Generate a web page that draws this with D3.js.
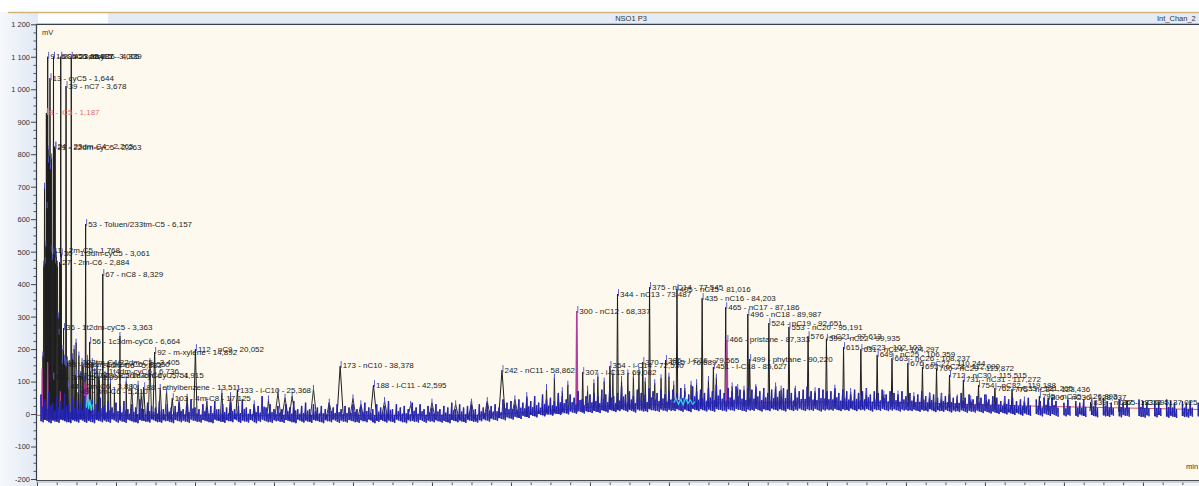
<!DOCTYPE html>
<html><head><meta charset="utf-8">
<script src="https://cdn.jsdelivr.net/npm/d3@7"></script>
<style>
body{margin:0;background:#fff;overflow:hidden}
svg{display:block}
text{font-family:"Liberation Sans",Arial,sans-serif}
</style></head>
<body><svg id="c" width="1199" height="486"></svg>
<script>
// ---------------- DATA ----------------
const chartTitle = "NSO1 P3";
const channelName = "Int_Chan_2";
const yUnit = "mV", xUnit = "min";
const yTickValues = [-200,-100,0,100,200,300,400,500,600,700,800,900,1000,1100,1200];
const xTickValues = [0,10,20,30,40,50,60,70,80,90,100,110,120,130,140];

// labelled peaks: id, compound, retention time (min), height (mV)
const peakIds   = [8,9,13,11,16,21,24,27,29,30,36,39,45,53,56,57,67,88,92,103,112,133,173,188,242,300,307,354,344,370,375,385,405,435,451,465,466,496,499,524,553,576,599,615,631,649,663,676,691,700,712,731,754,762,775,795,806,839,865,
                   14,41,43,47,50,62,44,49];
const peakNames = ["iC5","nC5","cyC5","2m-C5","nC6","22dm-cyC5","23dm-C4","2m-C6","23dm-C5","1t3dm-cyC5","1t2dm-cyC5","nC7","mcyC6","Toluen/233tm-C5","1c3dm-cyC6","1t4dm-cyC6","nC8","ethylbenzene","m-xylene","4m-C8","nC9","i-C10","nC10","i-C11","nC11","nC12","i-C13","i-C14","nC13","i-C15","nC14","i-C16","nC15","nC16","i-C18","nC17","pristane","nC18","phytane","nC19","nC20","nC21","nC22","nC23","nC24","nC25","nC26","nC27","nC28","nC29","nC30","nC31","nC32","nC33","nC34","nC35","nC36","nC37","nC38",
                   "3m-C5","223tm-C4/22dm-C5","33dm-C5/2m-C6","224tm-C5/1c3dm-cyC5","24dm-C6","1c2dm-cyC6","2m-C6","3m-C6"];
const peakTimes = [1.187,1.354,1.644,1.768,2.087,2.263,2.265,2.884,3.005,3.061,3.363,3.678,4.339,6.157,6.664,6.736,8.329,13.511,14.892,17.125,20.052,25.368,38.378,42.595,58.862,68.337,69.082,72.530,73.487,76.689,77.545,79.565,81.016,84.203,85.627,87.186,87.333,89.987,90.220,92.651,95.191,97.613,99.935,102.103,104.297,106.359,108.237,110.244,112.090,113.872,115.515,117.272,119.188,121.265,123.436,126.893,128.037,133.395,137.025,
                   1.997,3.405,3.550,4.915,5.833,7.751,3.880,5.210];
const peakHeights=[927,1100,1034,505,1100,822,824,468,1100,495,265,1010,1100,585,222,132,431,83,191,49,200,74,148,89,135,317,129,148,369,160,391,166,385,357,145,329,228,308,169,280,268,240,232,206,200,182,172,157,145,139,120,105,89,80,77,55,50,37,37,
                   112,158,152,120,150,118,84,68];
const redLabelIds = [8];
const magentaPeakIds = [300,466];

// unlabelled peaks: time (min), height (mV)
const minorTimes  = [0.75,0.85,0.95,1.05,1.12,1.28,1.45,1.52,1.58,1.70,1.85,1.95,2.15,2.35,2.45,2.60,2.70,2.80,3.20,3.30,3.50,3.85,4.05,4.50,4.70,4.95,5.30,5.50,5.70,6.00,6.40,7.00,7.30,7.60,7.90,8.60,9.00,9.30,9.80,10.5,11.3,12.0,
                     12.8,13.2,14.3,15.6,16.4,18.0,19.0,21.5,23.4,24.5,27.5,29.3,30.5,31.4,32.3,35.0,37.0,40.0,41.0,44.0,47.3,50.0,53.0,55.0,57.0,
                     60.5,62.0,64.5,65.5,66.5,67.2,69.7,70.5,71.0,71.8,72.9,74.0,74.8,75.5,76.2,77.0,78.2,79.0,80.0,80.6,82.0,82.8,83.5,85.0,86.0,88.0,88.7,89.5,91.0,93.5,94.2,96.0,98.5,101.0,103.0,105.0,107.2,109.0,111.0,113.0,114.5,116.5,118.2,120.2,122.5,125.0];
const minorHeights= [180,460,700,470,520,640,780,815,800,760,790,480,500,470,490,460,300,250,160,200,170,165,150,175,200,220,180,120,160,110,170,160,130,150,110,120,150,100,70,240,100,80,
                     90,60,160,80,70,40,50,40,65,55,30,45,65,50,55,77,35,48,30,40,28,35,30,35,40,
                     45,55,80,112,70,90,75,95,115,100,125,105,125,115,130,100,95,110,115,90,80,90,95,105,112,85,80,75,80,85,75,75,70,78,68,65,60,60,55,55,50,48,45,48,40,42];
const magentaTimes = [0.65,1.35,2.95,6.05,6.30,66.0];
const magentaHeights=[140,160,70,100,90,60];

// detector baseline (red)
const baseTimes  = [0,56,64,72,85,100,112,125,147.1];
const baseValues = [-4,-4,8,25,34,37,34,25,14];

// baseline noise, sampled every 0.5 min from 0.5 min: upper and lower excursions (mV)
const noiseStart = 0.5, noiseStep = 0.5;
const noiseHi = [
 60,45,70,35,55,40,65,30,50,45,35,55,25,45,30,50,25,40,20,35,
 25,40,15,30,20,45,15,35,25,20,40,15,30,20,25,35,15,30,45,20,
 15,30,20,25,40,15,30,20,35,15,25,45,20,15,30,25,55,20,30,15,
 25,15,30,20,40,15,25,35,15,30,20,25,15,35,20,30,15,25,20,30,
 15,25,35,20,15,30,20,25,40,15,30,20,25,15,35,20,30,15,25,20,
 30,15,25,20,35,15,30,20,25,40,15,30,20,35,25,30,20,45,35,40,
 30,45,35,50,40,55,35,60,45,50,40,65,55,45,60,50,70,45,55,60,
 65,55,75,60,80,55,65,85,60,70,55,75,65,60,80,70,65,75,60,70,
 75,65,80,70,60,85,70,75,65,80,70,90,75,65,80,70,85,75,70,80,
 75,85,70,80,65,75,85,70,80,75,65,80,70,75,85,70,65,80,75,70,
 70,80,65,75,70,60,75,65,70,80,60,70,65,75,60,70,65,60,70,55,
 65,55,60,70,55,65,60,50,65,55,60,50,55,65,50,60,45,55,50,60,
 45,55,50,40,55,45,50,40,45,40,50,null,45,40,50,45,50,40,null,35,
 45,null,40,35,45,null,45,40,null,50,40,35,null,45,35,40,null,null,45,40,
 35,null,40,35,null,45,40,35,null,40,35,40,null,35];
const noiseLo = [
 -22,-18,-25,-20,-24,-16,-22,-25,-19,-23,-17,-24,-21,-25,-18,-22,-20,-24,-16,-23,
 -20,-24,-17,-22,-25,-18,-21,-23,-16,-22,-24,-19,-21,-25,-18,-22,-20,-24,-17,-21,
 -23,-18,-22,-25,-17,-21,-24,-19,-22,-16,-24,-20,-23,-18,-25,-21,-17,-22,-24,-19,
 -21,-24,-18,-22,-25,-17,-23,-20,-24,-18,-21,-25,-19,-22,-17,-24,-20,-23,-18,-22,
 -24,-19,-22,-17,-25,-21,-18,-23,-20,-24,-17,-22,-25,-19,-21,-23,-18,-24,-20,-22,
 -19,-23,-21,-25,-18,-22,-20,-24,-17,-21,-23,-19,-16,-20,-14,-18,-12,-16,-10,-14,
 -8,-12,-5,-9,-3,-7,0,-4,2,-2,4,0,6,2,8,4,10,5,9,6,
 10,6,12,8,14,9,12,15,10,13,8,14,11,9,15,12,10,14,11,13,
 12,15,10,14,9,16,12,15,11,14,10,16,13,11,15,12,16,13,10,14,
 13,16,11,15,12,17,13,15,11,16,12,14,17,12,15,13,16,11,14,15,
 14,16,12,15,13,17,12,15,14,16,11,15,13,16,12,14,15,11,14,13,
 12,14,10,13,11,15,9,12,10,13,8,11,9,12,7,10,8,11,6,9,
 5,8,3,6,2,5,0,4,-2,2,-3,null,0,-4,2,-3,0,-5,null,-4,
 -2,null,-5,-1,-6,null,-3,-7,null,-4,-6,-2,null,-7,-3,-5,null,null,-6,-8,
 -4,null,-7,-3,null,-8,-5,-9,null,-6,-8,-5,null,-7];

// second detector trace fragments (cyan)
const cyanTimesA = [6.25,6.40,6.55,6.70,6.85,7.00];
const cyanValuesA= [20,60,15,45,10,30];
const cyanTimesB = [80.6,80.9,81.2,81.5,81.8,82.1,82.4,82.7,83.0,83.3];
const cyanValuesB= [35,48,30,45,28,50,32,44,30,38];

// ---------------- DRAW ----------------
const svg = d3.select("#c");
const X0 = 37, X1 = 1199, YT = 24.3, YB = 479;
const x = d3.scaleLinear().domain([0,147.1]).range([X0,X1]);
const y = d3.scaleLinear().domain([-200,1200]).range([YB,YT]);
const base = d3.scaleLinear().domain(baseTimes).range(baseValues);
const loc = d3.formatLocale({decimal:",",thousands:"\u00a0",grouping:[3],currency:["",""],minus:"-"});
const fmtY = loc.format(",");
const fmtT = loc.format(".3f");

const defs = svg.append("defs");
const g1 = defs.append("linearGradient").attr("id","lg").attr("x1","0").attr("x2","1").attr("y1","0").attr("y2","0");
g1.append("stop").attr("offset","0").attr("stop-color","#f6f8fc");
g1.append("stop").attr("offset","1").attr("stop-color","#e2e9f4");
defs.append("clipPath").attr("id","clip").append("rect").attr("x",X0).attr("y",YT-0.3).attr("width",X1-X0).attr("height",YB-YT+1.3);

// backgrounds
svg.append("rect").attr("x",0).attr("y",12).attr("width",X0).attr("height",474).attr("fill","url(#lg)");
svg.append("rect").attr("x",X0).attr("y",481).attr("width",X1-X0).attr("height",5).attr("fill","#f1f4f9");
svg.append("rect").attr("x",X0).attr("y",12.5).attr("width",X1-X0).attr("height",12).attr("fill","#e4ebf6");
svg.append("rect").attr("x",X0+1).attr("y",13).attr("width",70).attr("height",10.5).attr("fill","#fcfdfe");
svg.append("line").attr("x1",8).attr("x2",X1).attr("y1",12.5).attr("y2",12.5).attr("stroke","#d2b574").attr("stroke-width",1.4);
svg.append("text").attr("x",631).attr("y",21).attr("text-anchor","middle").attr("font-size",7.5).attr("fill","#333").text(chartTitle);
svg.append("text").attr("x",1157).attr("y",21).attr("font-size",7.5).attr("fill","#333").text(channelName);
svg.append("rect").attr("x",X0).attr("y",YT).attr("width",X1-X0).attr("height",YB-YT+1.5).attr("fill","#fef9ee");

// frame
svg.append("line").attr("x1",X0-0.5).attr("x2",X1).attr("y1",YT).attr("y2",YT).attr("stroke","#34404c").attr("stroke-width",1.2);
svg.append("line").attr("x1",X0-0.5).attr("x2",X0-0.5).attr("y1",YT).attr("y2",YB+1.5).attr("stroke","#34404c").attr("stroke-width",1.2);
svg.append("line").attr("x1",X0-1).attr("x2",X1).attr("y1",YB+1.5).attr("y2",YB+1.5).attr("stroke","#4a4f55").attr("stroke-width",1);
svg.append("line").attr("x1",X0-1).attr("x2",X1).attr("y1",YB+3).attr("y2",YB+3).attr("stroke","#a8adb3").attr("stroke-width",1);

// y axis
const yAxis = svg.append("g").attr("transform",`translate(${X0-1},0)`)
  .call(d3.axisLeft(y).tickValues(yTickValues).tickSize(5).tickFormat(fmtY));
yAxis.select(".domain").remove();
yAxis.selectAll("line").attr("stroke","#444");
yAxis.selectAll("text").attr("font-size",7.5).attr("fill","#333").attr("x",-6);
const yMinor = svg.append("g").attr("transform",`translate(${X0-1},0)`)
  .call(d3.axisLeft(y).tickValues(d3.range(-200,1201,25).filter(v=>v%100)).tickSize(2.5).tickFormat(""));
yMinor.select(".domain").remove();
yMinor.selectAll("line").attr("stroke","#555");

// x axis
const xAxis = svg.append("g").attr("transform",`translate(0,${YB+3.5})`)
  .call(d3.axisBottom(x).tickValues(xTickValues).tickSize(3.5).tickFormat(d=>d));
xAxis.select(".domain").remove();
xAxis.selectAll("line").attr("stroke","#444");
xAxis.selectAll("text").attr("font-size",7.5).attr("fill","#333").attr("y",5);
const xMinor = svg.append("g").attr("transform",`translate(0,${YB+3.5})`)
  .call(d3.axisBottom(x).tickValues(d3.range(0,147,2.5).filter(v=>v%10)).tickSize(2.5).tickFormat(""));
xMinor.select(".domain").remove();
xMinor.selectAll("line").attr("stroke","#555");

svg.append("text").attr("x",42).attr("y",35).attr("font-size",7.5).attr("fill","#333").text(yUnit);
svg.append("text").attr("x",1186).attr("y",469).attr("font-size",7.5).attr("fill","#333").text(xUnit);

// plot content
const P = svg.append("g").attr("clip-path","url(#clip)");

// red baseline
P.append("path").datum(baseTimes.map((t,i)=>[t,baseValues[i]]))
  .attr("d",d3.line().x(d=>x(d[0])).y(d=>y(d[1])))
  .attr("fill","none").attr("stroke","#d9605a").attr("stroke-width",1);

function halfWidth(t){ return t<12?0.06:(t<30?0.22:(t<62?0.42:0.1)); }
function peakD(t,h){
  const w=halfWidth(t);
  return `M${x(t-w)},${y(base(t-w)-12)}L${x(t)},${y(h)}L${x(t+w)},${y(base(t+w)-12)}`;
}

// unlabelled peaks
const minor = minorTimes.map((t,i)=>({t,h:minorHeights[i]}));
P.append("g").selectAll("path").data(minor).join("path")
  .attr("d",d=>peakD(d.t,d.h)).attr("fill","none").attr("stroke","#1e1e1e").attr("stroke-width",0.9);
// labelled peaks
const peaks = peakIds.map((id,i)=>({id,name:peakNames[i],t:peakTimes[i],h:peakHeights[i]}));
P.append("g").selectAll("path").data(peaks).join("path")
  .attr("d",d=>peakD(d.t,d.h)).attr("fill","none")
  .attr("stroke",d=>magentaPeakIds.includes(d.id)?"#b0409a":"#1e1e1e")
  .attr("stroke-width",d=>magentaPeakIds.includes(d.id)?1.6:1);
// magenta small peaks
P.append("g").selectAll("path").data(magentaTimes.map((t,i)=>({t,h:magentaHeights[i]}))).join("path")
  .attr("d",d=>peakD(d.t,d.h)).attr("fill","none").attr("stroke","#c03aa8").attr("stroke-width",1.2);

// noise: spike bars + connecting trace
const noise = noiseHi.map((v,i)=>({t:noiseStart+i*noiseStep, hi:v, lo:noiseLo[i]})).filter(d=>d.hi!=null);
const NG = P.append("g");
NG.selectAll("line.a").data(noise).join("line").attr("class","a")
  .attr("x1",d=>x(d.t)).attr("x2",d=>x(d.t)).attr("y1",d=>y(d.hi)).attr("y2",d=>y(d.lo))
  .attr("stroke","#1c1ca0").attr("stroke-width",1.4);
NG.selectAll("line.b").data(noise).join("line").attr("class","b")
  .attr("x1",d=>x(d.t+noiseStep/2)).attr("x2",d=>x(d.t+noiseStep/2))
  .attr("y1",d=>y(d.lo+(d.hi-d.lo)*0.55)).attr("y2",d=>y(d.lo-3))
  .attr("stroke","#2a2ab8").attr("stroke-width",1.2);
const noisePts = [];
noiseHi.forEach((v,i)=>{
  const t = noiseStart + i*noiseStep;
  if(v==null){ noisePts.push(null); return; }
  noisePts.push([t,v]); noisePts.push([t+0.08,noiseLo[i]]); noisePts.push([t+noiseStep/2, noiseLo[i]+(v-noiseLo[i])*0.55]); noisePts.push([t+noiseStep/2+0.05, noiseLo[i]-3]);
});
const zig = d3.line().defined(d=>d!=null).x(d=>x(d[0])).y(d=>y(d[1]));
NG.append("path").attr("d",zig(noisePts)).attr("fill","none").attr("stroke","#2626b0").attr("stroke-width",0.8);

// blue apex markers on small peaks
P.append("g").selectAll("line").data(minor).join("line")
  .attr("x1",d=>x(d.t)).attr("x2",d=>x(d.t)).attr("y1",d=>y(d.h)-4).attr("y2",d=>y(d.h)+2)
  .attr("stroke","#4b55c8").attr("stroke-width",1);

// cyan fragments
[[cyanTimesA,cyanValuesA],[cyanTimesB,cyanValuesB]].forEach(([ts,vs])=>{
  P.append("path").datum(ts.map((t,i)=>[t,vs[i]])).attr("d",zig).attr("fill","none").attr("stroke","#38d8e8").attr("stroke-width",1.1);
});

// labels
const L = P.append("g");
peaks.forEach(d=>{
  const red = redLabelIds.includes(d.id);
  L.append("line").attr("x1",x(d.t)+1).attr("x2",x(d.t)+1).attr("y1",y(d.h)-5).attr("y2",y(d.h)+2)
    .attr("stroke",red?"#e07a78":"#5a64c8").attr("stroke-width",1);
  L.append("text").attr("x",x(d.t)+2.5).attr("y",y(d.h)+2.5).attr("font-size",8)
    .attr("fill",red?"#e46f6a":"#1c1c1c")
    .text(`${d.id} - ${d.name} - ${fmtT(d.t)}`);
});
</script>
</body></html>
